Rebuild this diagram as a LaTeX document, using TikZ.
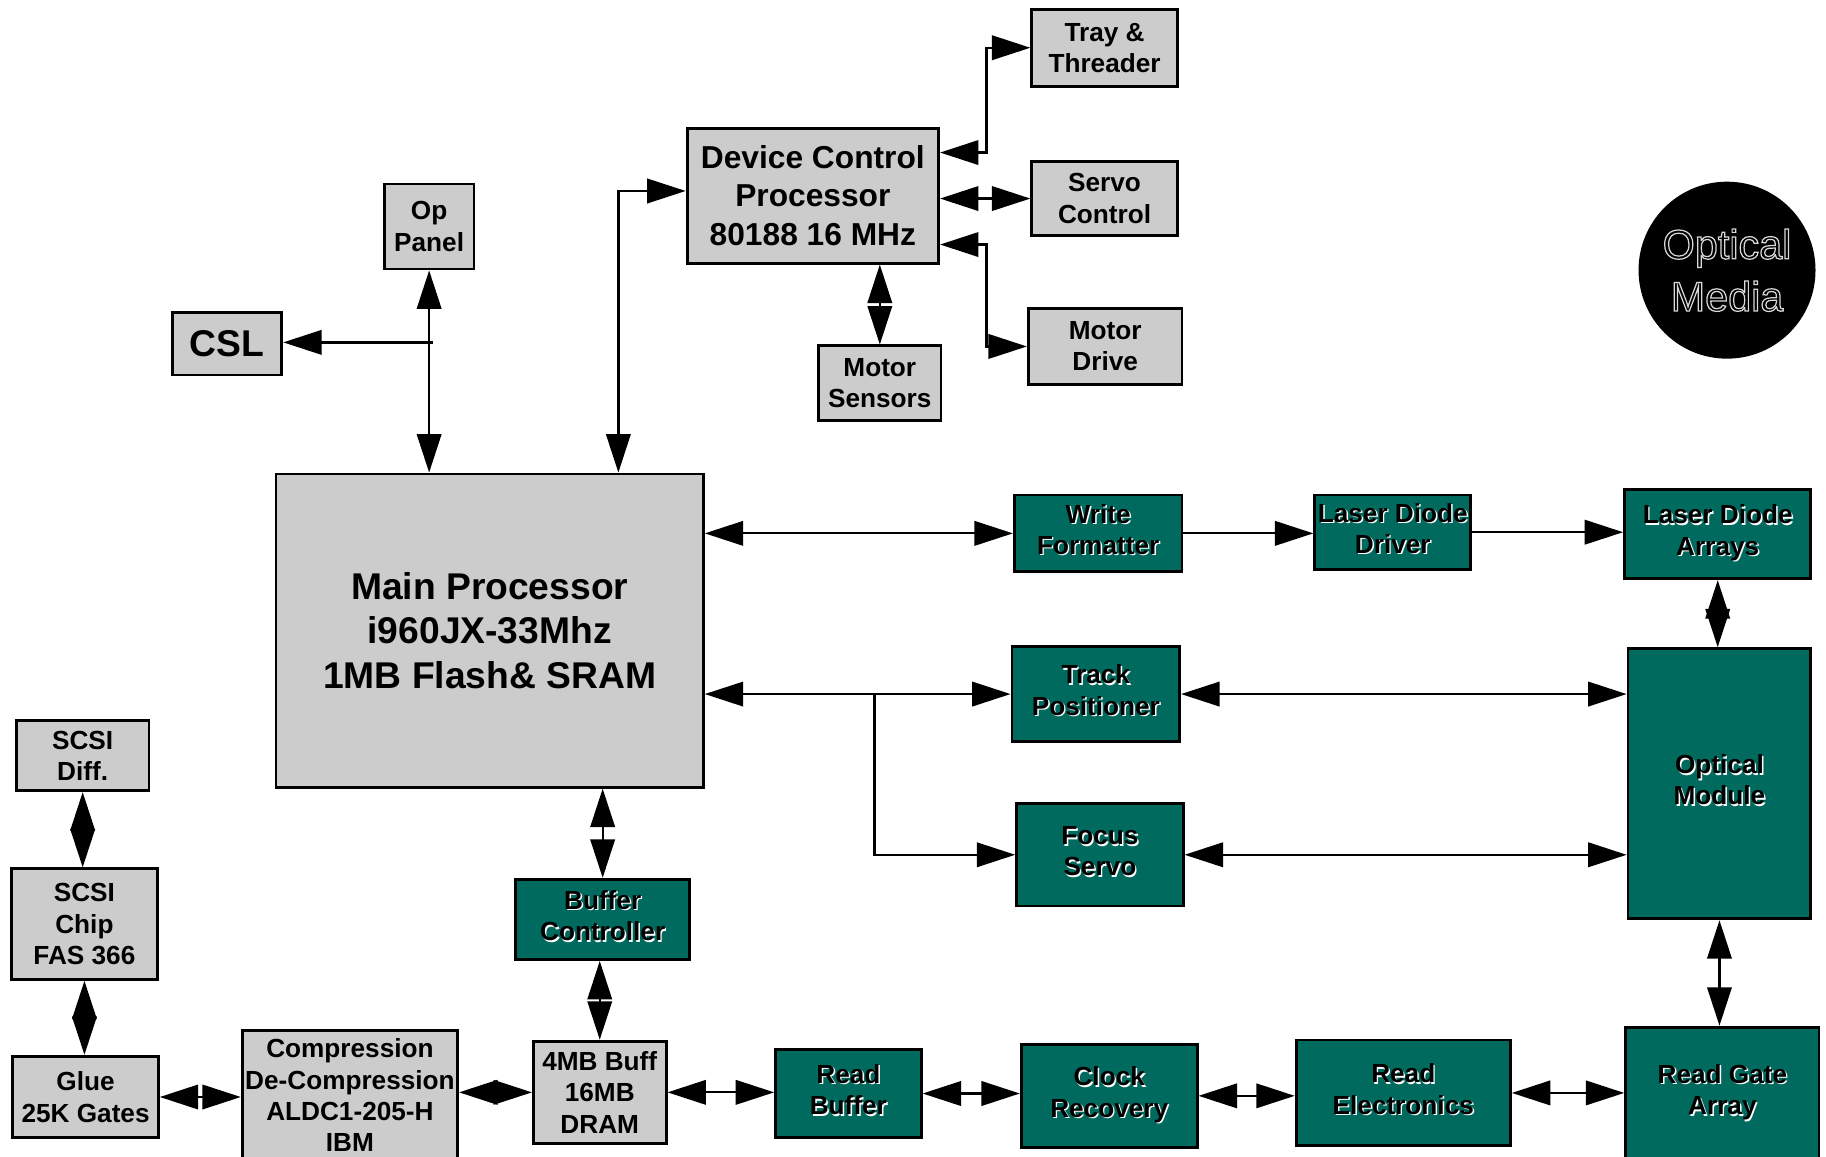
\documentclass[tikz,border=0pt]{standalone}
\usepackage{fontspec}
\setmainfont{Liberation Sans}
\usetikzlibrary{arrows.meta}
\definecolor{boxgray}{RGB}{204,204,204}
\definecolor{tealbox}{RGB}{0,106,94}
\newcommand\smallf{\fontsize{12.8pt}{15.3pt}\selectfont\bfseries}
\newcommand\bigf{\fontsize{18.2pt}{21.8pt}\selectfont\bfseries}
\newcommand\dcpf{\fontsize{15.5pt}{18.7pt}\selectfont\bfseries}
\newcommand\mediaf{\fontsize{20.2pt}{25.5pt}\selectfont}
\newcommand\embtxt[1]{{\leavevmode\rlap{\hspace{0.7pt}\raisebox{-0.7pt}{\color{white}\begin{tabular}{@{}c@{}}#1\end{tabular}}}\begin{tabular}{@{}c@{}}#1\end{tabular}}}
\newcommand\outltxt[1]{\special{pdf:literal direct 1 Tr 0.6 w}#1\special{pdf:literal direct 0 Tr}}
\newcommand\mkbox[7]{\node[#6, minimum width={(#4-#2)*0.02cm}, minimum height={(#5-#3)*0.02cm}] (#1) at ({(#2+#4)/2},{(#3+#5)/2}) {#7};}
\tikzset{
  gbox/.style={draw=black, line width=1.4pt, fill=boxgray, inner sep=0pt, align=center, font=\smallf},
  tbox/.style={draw=black, line width=1.4pt, fill=tealbox, inner sep=0pt, font=\smallf},
  conn/.style={line width=1.1pt, draw=black},
  dbl/.style={conn, {Triangle[length=0.66cm,width=0.42cm]}-{Triangle[length=0.66cm,width=0.42cm]}},
  sgl/.style={conn, -{Triangle[length=0.66cm,width=0.42cm]}},
}
\begin{document}
\begin{tikzpicture}[x=0.02cm, y=-0.02cm]
\useasboundingbox (0,0) rectangle (1568,993);
\clip (0,0) rectangle (1568,993);
% boxes
\mkbox{tray}{886}{8}{1011}{74}{gbox}{Tray \&\\Threader}
\mkbox{dcp}{590}{110}{806}{226}{gbox,font=\dcpf}{Device Control\\Processor\\80188 16 MHz}
\mkbox{servo}{886}{139}{1011}{202}{gbox}{Servo\\Control}
\mkbox{op}{330}{158}{407}{231}{gbox}{Op\\Panel}
\mkbox{csl}{148}{268}{242}{322}{gbox,font=\bigf}{CSL}
\mkbox{mdrive}{883}{265}{1015}{330}{gbox}{Motor\\Drive}
\mkbox{msens}{703}{297}{808}{361}{gbox}{Motor\\Sensors}
\mkbox{main}{237}{407}{604}{676}{gbox,font=\bigf}{Main Processor\\i960JX-33Mhz\\1MB Flash\& SRAM}
\mkbox{wf}{871}{425}{1015}{491}{tbox}{\embtxt{Write\\Formatter}}
\mkbox{ldd}{1129}{425}{1263}{489}{tbox}{\embtxt{Laser Diode\\Driver}}
\mkbox{lda}{1395}{420}{1555}{497}{tbox}{\embtxt{Laser Diode\\Arrays}}
\mkbox{tp}{869}{555}{1013}{637}{tbox}{\embtxt{Track\\Positioner}}
\mkbox{om}{1398}{557}{1555}{789}{tbox}{\embtxt{Optical\\Module}}
\mkbox{fs}{873}{690}{1016}{778}{tbox}{\embtxt{Focus\\Servo}}
\mkbox{diff}{14}{619}{128}{679}{gbox}{SCSI\\Diff.}
\mkbox{chip}{10}{746}{135}{841}{gbox}{SCSI\\Chip\\FAS 366}
\mkbox{bc}{443}{755}{592}{824}{tbox}{\embtxt{Buffer\\Controller}}
\mkbox{glue}{11}{907}{136}{977}{gbox}{Glue\\25K Gates}
\mkbox{comp}{208}{885}{393}{996}{gbox}{Compression\\De-Compression\\ALDC1-205-H\\IBM}
\mkbox{dram}{458}{894}{572}{982}{gbox}{4MB Buff\\16MB\\DRAM}
\mkbox{rb}{666}{901}{791}{977}{tbox}{\embtxt{Read\\Buffer}}
\mkbox{cr}{877}{897}{1028}{985}{tbox}{\embtxt{Clock\\Recovery}}
\mkbox{re}{1113}{893}{1297}{984}{tbox}{\embtxt{Read\\Electronics}}
\mkbox{rga}{1396}{882}{1562}{996}{tbox}{\embtxt{Read Gate\\Array}}
\node[circle, fill=black, inner sep=0pt, minimum size=3.04cm, align=center, font=\mediaf, text=white!85!black] (media) at (1483,232) {\outltxt{Optical}\\\outltxt{Media}};
% junctions
\coordinate (jop) at (372,294);
\coordinate (jd) at (531,164);
\coordinate (jt) at (847,131);
\coordinate (jm) at (847,210);
\coordinate (jf) at (751,596);
% connectors
\draw[dbl] (op.south) -- (op.south |- main.north);
\draw[sgl] (jop) -- (csl.east |- jop);
\draw[dbl] (main.north -| jd) -- (jd) -- (dcp.west |- jd);
\draw[dbl] (msens.north) -- (msens.north |- dcp.south);
\draw[dbl] (dcp.east |- jt) -- (jt) |- (tray.west);
\draw[dbl] (dcp.east |- servo.west) -- (servo.west);
\draw[dbl] (dcp.east |- jm) -- (jm) |- (mdrive.west);
\draw[dbl] (main.east |- wf.west) -- (wf.west);
\draw[sgl] (wf.east) -- (ldd.west |- wf.east);
\draw[sgl] (ldd.east) -- (lda.west |- ldd.east);
\draw[dbl] (lda.south) -- (lda.south |- om.north);
\draw[dbl] (main.east |- tp.west) -- (tp.west);
\draw[sgl] (jf) |- (fs.west);
\draw[dbl] (tp.east) -- (om.west |- tp.east);
\draw[dbl] (fs.east) -- (om.west |- fs.east);
\draw[dbl] (om.south) -- (om.south |- rga.north);
\draw[dbl] (bc.north) -- (bc.north |- main.south);
\draw[dbl] (dram.north) -- (dram.north |- bc.south);
\draw[dbl] (diff.south) -- (diff.south |- chip.north);
\draw[dbl] (chip.south) -- (chip.south |- glue.north);
\draw[dbl] (glue.east) -- (comp.west |- glue.east);
\draw[dbl] (comp.east |- dram.west) -- (dram.west);
\draw[dbl] (dram.east) -- (rb.west |- dram.east);
\draw[dbl] (rb.east) -- (cr.west |- rb.east);
\draw[dbl] (cr.east) -- (re.west |- cr.east);
\draw[dbl] (re.east) -- (rga.west |- re.east);
\end{tikzpicture}
\end{document}
